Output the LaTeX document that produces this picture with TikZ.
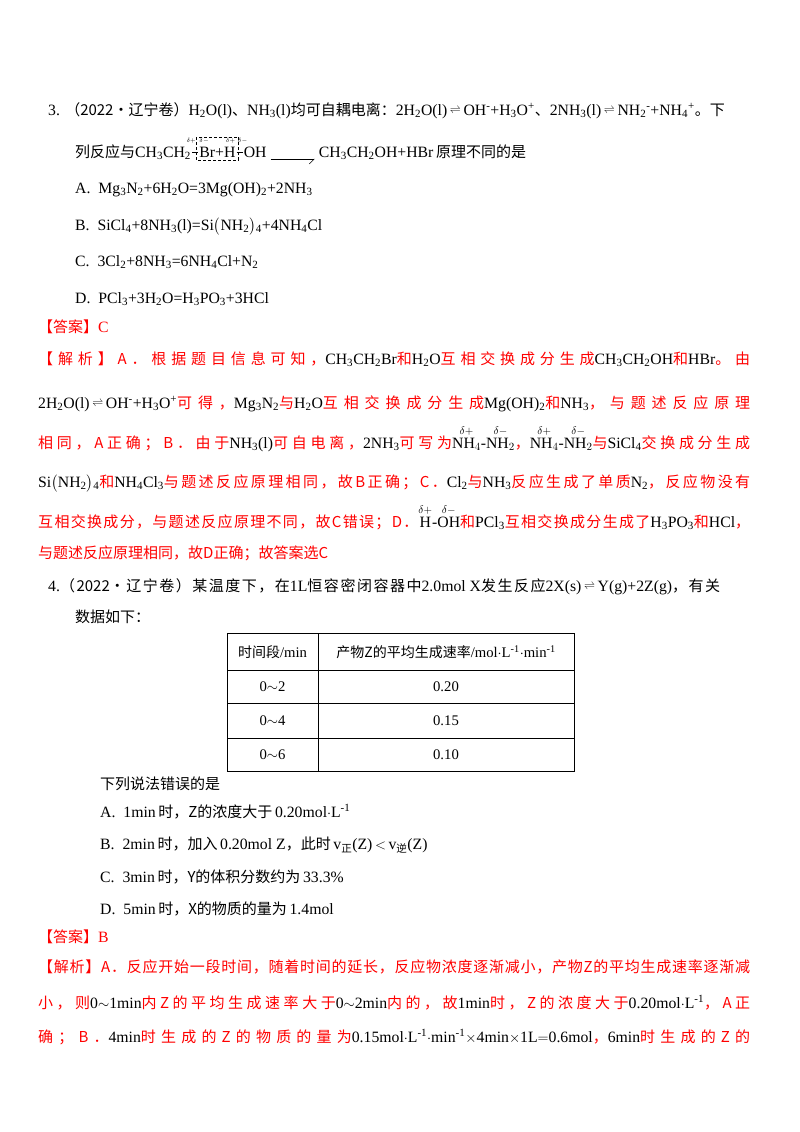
\documentclass[tikz,border=0pt]{standalone}
\usepackage{amsmath}
\usepackage{fontspec}
\usetikzlibrary{arrows.meta}
\setmainfont[Scale=1.05]{Liberation Serif}
\newfontfamily\zhf{Noto Sans CJK SC}
\newcommand\zh[1]{{\zhf #1}}
\newcommand\dn[1]{\textsubscript{#1}}
\newcommand\up[1]{\textsuperscript{#1}}
\newcommand\eqm{\,\raisebox{0.3ex}{$\scriptstyle\rightleftharpoons$}\,}
\newcount\myc
\myc="4E00
\loop \XeTeXcharclass\myc=1 \advance\myc by 1 \ifnum\myc<"A000 \repeat
\myc="3000
\loop \XeTeXcharclass\myc=1 \advance\myc by 1 \ifnum\myc<"3040 \repeat
\myc="FF00
\loop \XeTeXcharclass\myc=1 \advance\myc by 1 \ifnum\myc<"FF60 \repeat
\XeTeXinterchartokenstate=1
\XeTeXinterchartoks 1 1 = {\hskip 0pt plus 1fil}
\XeTeXinterchartoks 0 1 = {\hskip 0pt plus 1fil}
\XeTeXinterchartoks 1 0 = {\hskip 0pt plus 1fil}
\newcommand\jl[2]{\makebox[#1pt][s]{#2}}
\begin{document}
\begin{tikzpicture}[x=1pt,y=-1pt,
  t/.style={anchor=base west,inner sep=0pt,font=\fontsize{15}{17}\selectfont},
  r/.style={t,text=red},
  dl/.style={inner sep=0pt,font=\fontsize{6}{6}\selectfont},
  cell/.style={anchor=center,inner sep=0pt,font=\fontsize{14}{16}\selectfont}]
\useasboundingbox (0,0) rectangle (800,1132);
\fill[white] (0,0) rectangle (800,1132);
% Question 3
\node[t] (q3) at (48,115) {\jl{672}{3.\ \ \zh{（2022·辽宁卷）}H\dn{2}O(l)\zh{、}NH\dn{3}(l)\zh{均可自耦电离：}2H\dn{2}O(l)\eqm OH\up{-}+H\dn{3}O\up{+}\zh{、}2NH\dn{3}(l)\eqm NH\dn{2}\up{-}+NH\dn{4}\up{+}\zh{。下}}};
\node[t] (l2a) at (75,157) {\zh{列反应与}CH\dn{3}CH\dn{2}};
\node[t] (l2b) at ([xshift=8pt]l2a.base east) {Br+H};
\node[t] (l2c) at ([xshift=8pt]l2b.base east) {OH};
\draw[densely dashed] ([xshift=-3pt,yshift=20pt]l2b.base west) rectangle ([xshift=3pt,yshift=-3pt]l2b.base east);
\draw ([xshift=-7pt,yshift=5pt]l2b.base west) -- ([xshift=-1pt,yshift=5pt]l2b.base west);
\draw ([xshift=1pt,yshift=5pt]l2b.base east) -- ([xshift=7pt,yshift=5pt]l2b.base east);
\node[dl] (d1) at ([xshift=-8pt,yshift=16pt]l2b.base west) {$\delta+$};
\node[dl] (d2) at ([xshift=5pt,yshift=16pt]l2b.base west) {$\delta-$};
\node[dl] (d3) at ([xshift=-5pt,yshift=16pt]l2b.base east) {$\delta+$};
\node[dl] (d4) at ([xshift=7pt,yshift=16pt]l2b.base east) {$\delta-$};
\coordinate (ar1) at ([xshift=4pt,yshift=-2pt]l2c.base east);
\coordinate (ar2) at ([xshift=48pt,yshift=-2pt]l2c.base east);
\draw[-{Straight Barb[right,length=5pt]}] (ar1) -- (ar2);
\node[t] (l2d) at ([xshift=52pt]l2c.base east) {CH\dn{3}CH\dn{2}OH+HBr\,\zh{原理不同的是}};
\node[t] (oa) at (75,193) {A.\ \ Mg\dn{3}N\dn{2}+6H\dn{2}O=3Mg(OH)\dn{2}+2NH\dn{3}};
\node[t] (ob) at (75,230) {B.\ \ SiCl\dn{4}+8NH\dn{3}(l)=Si$\big($NH\dn{2}$\big)$\dn{4}+4NH\dn{4}Cl};
\node[t] (oc) at (75,266) {C.\ \ 3Cl\dn{2}+8NH\dn{3}=6NH\dn{4}Cl+N\dn{2}};
\node[t] (od) at (75,303) {D.\ \ PCl\dn{3}+3H\dn{2}O=H\dn{3}PO\dn{3}+3HCl};
% answer 3
\node[r] (a3) at (38,332) {\zh{【答案】}C};
\node[r] (j1) at (38,364) {\jl{712}{\zh{【解析】A．根据题目信息可知，}\textcolor{black}{CH\dn{3}CH\dn{2}Br}\zh{和}\textcolor{black}{H\dn{2}O}\zh{互相交换成分生成}\textcolor{black}{CH\dn{3}CH\dn{2}OH}\zh{和}\textcolor{black}{HBr}\zh{。由}}};
\node[r] (j2) at (38,408) {\jl{712}{\textcolor{black}{2H\dn{2}O(l)\eqm OH\up{-}+H\dn{3}O\up{+}}\zh{可得，}\textcolor{black}{Mg\dn{3}N\dn{2}}\zh{与}\textcolor{black}{H\dn{2}O}\zh{互相交换成分生成}\textcolor{black}{Mg(OH)\dn{2}}\zh{和}\textcolor{black}{NH\dn{3}}\zh{，与题述反应原理}}};
\node[r] (j3) at (38,448) {\jl{712}{\zh{相同，A正确；B．由于}\textcolor{black}{NH\dn{3}(l)}\zh{可自电离，}\textcolor{black}{2NH\dn{3}}\zh{可写为}\textcolor{black}{$\overset{\delta+}{\mathrm{NH}_4}$-$\overset{\delta-}{\mathrm{NH}_2}$}\zh{，}\textcolor{black}{$\overset{\delta+}{\mathrm{NH}_4}$-$\overset{\delta-}{\mathrm{NH}_2}$}\zh{与}\textcolor{black}{SiCl\dn{4}}\zh{交换成分生成}}};
\node[r] (j4) at (38,487) {\jl{712}{\textcolor{black}{Si$\big($NH\dn{2}$\big)$\dn{4}}\zh{和}\textcolor{black}{NH\dn{4}Cl\dn{3}}\zh{与题述反应原理相同，故B正确；C．}\textcolor{black}{Cl\dn{2}}\zh{与}\textcolor{black}{NH\dn{3}}\zh{反应生成了单质}\textcolor{black}{N\dn{2}}\zh{，反应物没有}}};
\node[r] (j5) at (38,527) {\jl{712}{\zh{互相交换成分，与题述反应原理不同，故C错误；D．}\textcolor{black}{$\overset{\delta+}{\mathrm{H}}$-$\overset{\delta-}{\mathrm{OH}}$}\zh{和}\textcolor{black}{PCl\dn{3}}\zh{互相交换成分生成了}\textcolor{black}{H\dn{3}PO\dn{3}}\zh{和}\textcolor{black}{HCl}\zh{，}}};
\node[r] (j6) at (38,558) {\zh{与题述反应原理相同，故D正确；故答案选C}};
% Question 4
\node[t] (q4) at (48,591) {\jl{672}{4.\zh{（2022·辽宁卷）某温度下，在}1L\zh{恒容密闭容器中}2.0mol~X\zh{发生反应}2X(s)\eqm Y(g)+2Z(g)\zh{，有关}}};
\node[t] (q4b) at (75,622) {\zh{数据如下：}};
% table
\draw[line width=1pt] (227,633) rectangle (574,771);
\draw[line width=1pt] (318,633) -- (318,771);
\foreach \yy in {670,703,738} \draw[line width=1pt] (227,\yy) -- (574,\yy);
\node[cell] (h1) at (272.5,652) {\zh{时间段}/min};
\node[cell] (h2) at (446,652) {\zh{产物Z的平均生成速率}/mol$\cdot$L\up{-1}$\cdot$min\up{-1}};
\node[cell] (c1) at (272.5,687) {0$\sim$2};
\node[cell] (c2) at (446,687) {0.20};
\node[cell] (c3) at (272.5,721) {0$\sim$4};
\node[cell] (c4) at (446,721) {0.15};
\node[cell] (c5) at (272.5,755) {0$\sim$6};
\node[cell] (c6) at (446,755) {0.10};
\node[t] (s4) at (100,789) {\zh{下列说法错误的是}};
\node[t] (pa) at (100,817) {A.\ \ 1min\,\zh{时，Z的浓度大于}\,0.20mol$\cdot$L\up{-1}};
\node[t] (pb) at (100,849) {B.\ \ 2min\,\zh{时，加入}\,0.20mol Z\zh{，此时}\,v\dn{\zh{正}}(Z)\,$<$\,v\dn{\zh{逆}}(Z)};
\node[t] (pc) at (100,882) {C.\ \ 3min\,\zh{时，Y的体积分数约为}\,33.3\%};
\node[t] (pd) at (100,914) {D.\ \ 5min\,\zh{时，X的物质的量为}\,1.4mol};
\node[r] (a4) at (38,942) {\zh{【答案】}B};
\node[r] (k1) at (38,972) {\jl{712}{\zh{【解析】A．反应开始一段时间，随着时间的延长，反应物浓度逐渐减小，产物Z的平均生成速率逐渐减}}};
\node[r] (k2) at (38,1008) {\jl{712}{\zh{小，则}\textcolor{black}{0$\sim$1min}\zh{内Z的平均生成速率大于}\textcolor{black}{0$\sim$2min}\zh{内的，故}\textcolor{black}{1min}\zh{时，Z的浓度大于}\textcolor{black}{0.20mol$\cdot$L\up{-1}}\zh{，A正}}};
\node[r] (k3) at (38,1042) {\jl{712}{\zh{确；B．}\textcolor{black}{4min}\zh{时生成的Z的物质的量为}\textcolor{black}{0.15mol$\cdot$L\up{-1}$\cdot$min\up{-1}$\times$4min$\times$1L$=$0.6mol}\zh{，}\textcolor{black}{6min}\zh{时生成的Z的}}};
\end{tikzpicture}
\end{document}
